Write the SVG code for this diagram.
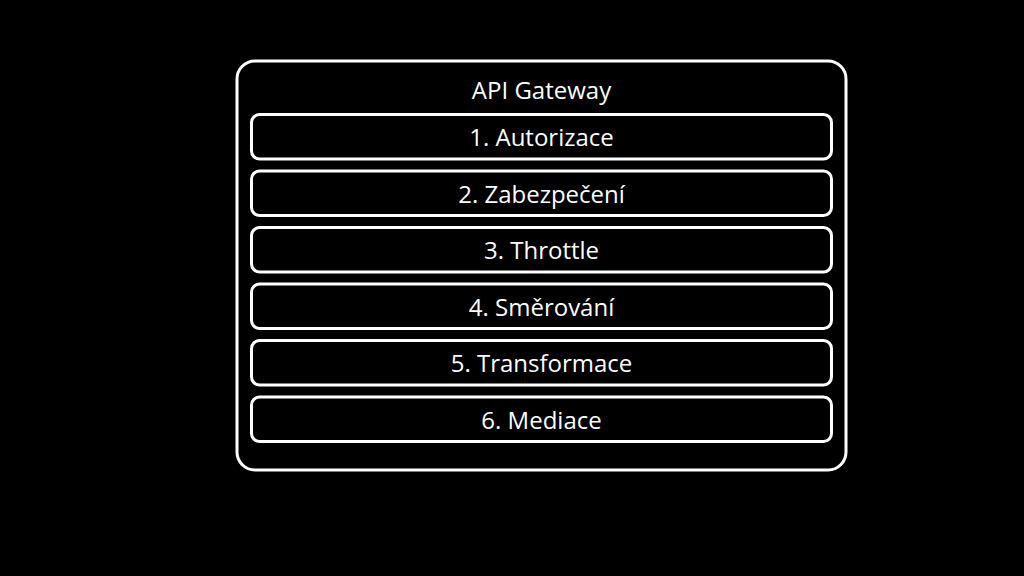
<svg xmlns="http://www.w3.org/2000/svg" width="1024" height="576" viewBox="0 0 1024 576">
<style>
.frame{fill:none;stroke:#fff;stroke-width:3}
.box{fill:none;stroke:#fff;stroke-width:3}
.t{fill:#fff;font-family:"Open Sans","Noto Sans",sans-serif;font-size:24px;text-anchor:middle}
</style>
<rect width="1024" height="576" fill="#000"/>
<g id="gateway">
<rect class="frame" x="237" y="61" width="609" height="409" rx="18"/>
<text class="t" x="541.5" y="99">API Gateway</text>
</g>
<g id="n1"><rect class="box" x="251.5" y="114.5" width="580" height="44.5" rx="8"/><text class="t" x="541.5" y="146">1. Autorizace</text></g>
<g id="n2"><rect class="box" x="251.5" y="171" width="580" height="44.5" rx="8"/><text class="t" x="541.5" y="202.5">2. Zabezpečení</text></g>
<g id="n3"><rect class="box" x="251.5" y="227.5" width="580" height="44.5" rx="8"/><text class="t" x="541.5" y="259">3. Throttle</text></g>
<g id="n4"><rect class="box" x="251.5" y="284" width="580" height="44.5" rx="8"/><text class="t" x="541.5" y="315.5">4. Směrování</text></g>
<g id="n5"><rect class="box" x="251.5" y="340.5" width="580" height="44.5" rx="8"/><text class="t" x="541.5" y="372">5. Transformace</text></g>
<g id="n6"><rect class="box" x="251.5" y="397" width="580" height="44.5" rx="8"/><text class="t" x="541.5" y="428.5">6. Mediace</text></g>
<g id="connectors"></g>
</svg>
